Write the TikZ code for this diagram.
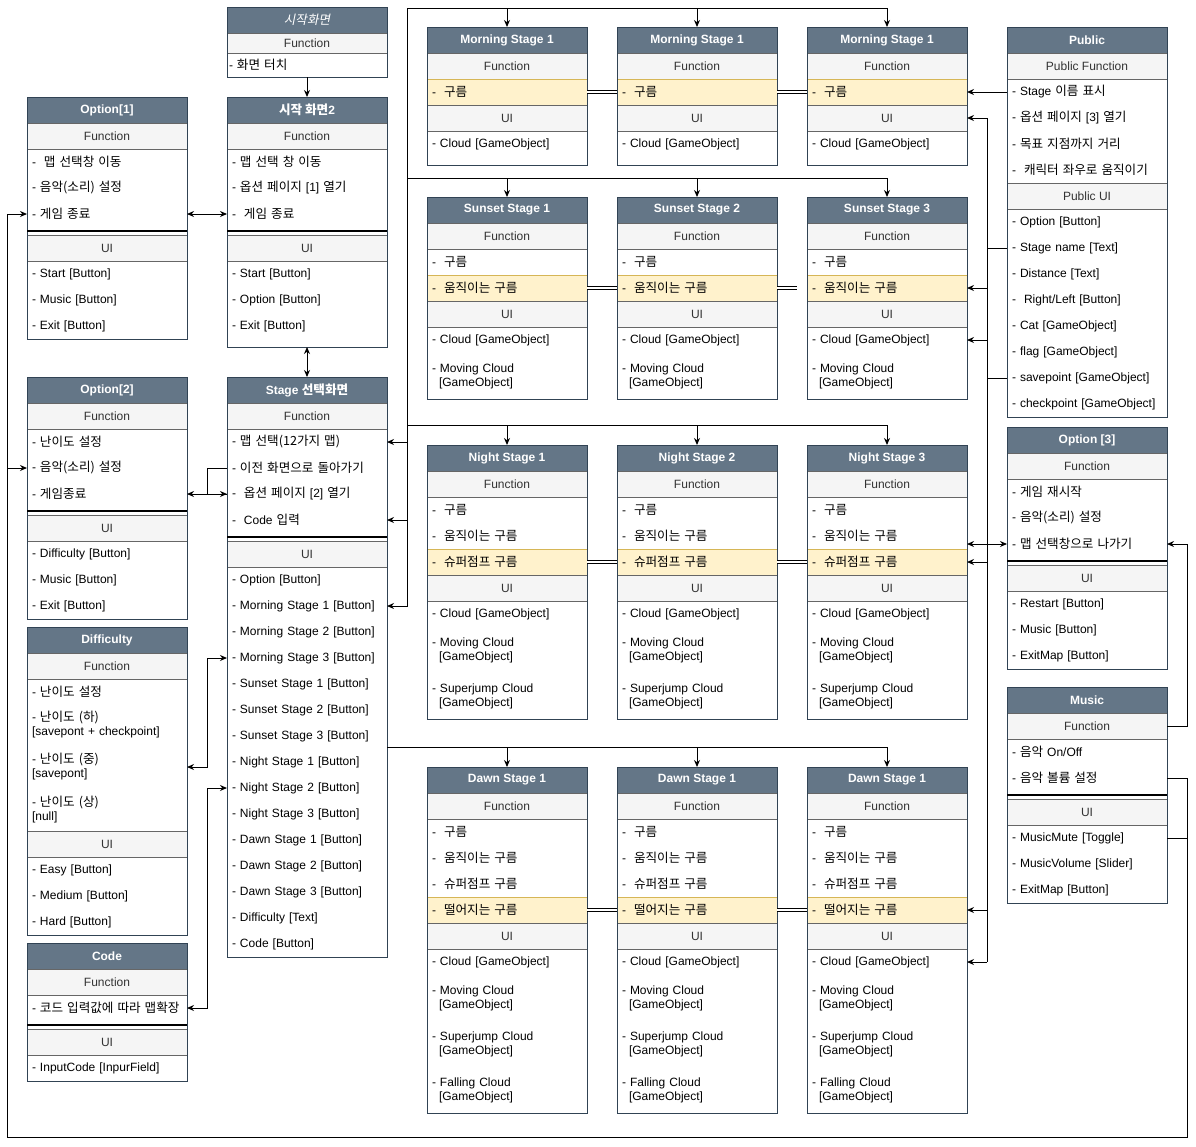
\documentclass[tikz,border=0pt]{standalone}
\usepackage{fontspec}
\setmainfont{Liberation Sans}
\newfontfamily\krfont{Noto Sans CJK KR}[Scale=1.05, AutoFakeSlant=0.2]
\newcommand{\kor}[1]{{\krfont #1}}
\usetikzlibrary{positioning, arrows.meta}
\definecolor{hdfill}{HTML}{647687}
\definecolor{hdline}{HTML}{314354}
\definecolor{partfill}{HTML}{F5F5F5}
\definecolor{partline}{HTML}{666666}
\definecolor{parttext}{HTML}{333333}
\definecolor{hotfill}{HTML}{FFF2CC}
\definecolor{hotline}{HTML}{D6B656}
\tikzstyle{boxtitle} = [rectangle, minimum width=160pt, minimum height=26pt, inner sep=0pt, outer sep=0pt, draw=hdline, fill=hdfill, text=white, font=\fontsize{12}{14}\selectfont\bfseries, anchor=north west]
\tikzstyle{boxpart} = [rectangle, minimum width=160pt, minimum height=26pt, inner sep=0pt, outer sep=0pt, draw=partline, fill=partfill, text=parttext]
\tikzstyle{boxrow} = [rectangle, minimum width=160pt, minimum height=26pt, inner sep=0pt, outer sep=0pt, inner xsep=5pt, text width=150pt, align=left]
\tikzstyle{boxhot} = [boxrow, draw=hotline, fill=hotfill]
\tikzstyle{boxtall} = [boxrow, minimum height=46pt]
\tikzstyle{boxgap} = [rectangle, minimum width=160pt, minimum height=8pt, inner sep=0pt, outer sep=0pt]
\tikzstyle{boxpad} = [boxgap]
\tikzstyle{boxframe} = [draw=hdline]
\tikzstyle{gapline} = [line width=1.5pt]
\tikzstyle{arrow} = [->,>={Stealth[length=7pt, width=6pt]}]
\tikzstyle{both} = [<->,>={Stealth[length=7pt, width=6pt]}]
\tikzstyle{dlink} = [double, double distance=2pt]

\begin{document}
\begin{tikzpicture}[x=1pt, y=-1pt, line width=1pt, every node/.style={font=\fontsize{12}{14}\selectfont}]
	\fill[white] (0,0) rectangle (1196,1146);

	% start screens
	\node (st) [boxtitle, font=\fontsize{12}{14}\selectfont\itshape] at (227,7) {\kor{시작화면}};
	\node (stf) [boxpart, minimum height=20pt, below=0pt of st] {Function};
	\node (sta) [boxrow, minimum height=24pt, inner xsep=2pt, text width=156pt, below=0pt of stf] {- \kor{화면 터치}};

	\node (s2) [boxtitle] at (227,97) {\kor{시작 화면}2};
	\node (s2f) [boxpart, below=0pt of s2] {Function};
	\node (s2a) [boxrow, below=0pt of s2f] {- \kor{맵 선택 창 이동}};
	\node (s2b) [boxrow, below=0pt of s2a] {- \kor{옵션 페이지} [1] \kor{열기}};
	\node (s2c) [boxrow, below=0pt of s2b] {-\ \ \kor{게임 종료}};
	\node (s2s) [boxgap, below=0pt of s2c] {};
	\node (s2u) [boxpart, below=0pt of s2s] {UI};
	\node (s2d) [boxrow, below=0pt of s2u] {- Start [Button]};
	\node (s2e) [boxrow, below=0pt of s2d] {- Option [Button]};
	\node (s2g) [boxrow, below=0pt of s2e] {- Exit [Button]};
	\node (s2p) [boxpad, below=0pt of s2g] {};

	% options
	\node (o1) [boxtitle] at (27,97) {Option[1]};
	\node (o1f) [boxpart, below=0pt of o1] {Function};
	\node (o1a) [boxrow, below=0pt of o1f] {-\ \ \kor{맵 선택창 이동}};
	\node (o1b) [boxrow, below=0pt of o1a] {- \kor{음악(소리) 설정}};
	\node (o1c) [boxrow, below=0pt of o1b] {- \kor{게임 종료}};
	\node (o1s) [boxgap, below=0pt of o1c] {};
	\node (o1u) [boxpart, below=0pt of o1s] {UI};
	\node (o1d) [boxrow, below=0pt of o1u] {- Start [Button]};
	\node (o1e) [boxrow, below=0pt of o1d] {- Music [Button]};
	\node (o1g) [boxrow, below=0pt of o1e] {- Exit [Button]};

	\node (o2) [boxtitle] at (27,377) {Option[2]};
	\node (o2f) [boxpart, below=0pt of o2] {Function};
	\node (o2a) [boxrow, below=0pt of o2f] {- \kor{난이도 설정}};
	\node (o2b) [boxrow, below=0pt of o2a] {- \kor{음악(소리) 설정}};
	\node (o2c) [boxrow, below=0pt of o2b] {- \kor{게임종료}};
	\node (o2s) [boxgap, below=0pt of o2c] {};
	\node (o2u) [boxpart, below=0pt of o2s] {UI};
	\node (o2d) [boxrow, below=0pt of o2u] {- Difficulty [Button]};
	\node (o2e) [boxrow, below=0pt of o2d] {- Music [Button]};
	\node (o2g) [boxrow, below=0pt of o2e] {- Exit [Button]};

	\node (df) [boxtitle] at (27,627) {Difficulty};
	\node (dff) [boxpart, below=0pt of df] {Function};
	\node (dfa) [boxrow, below=0pt of dff] {- \kor{난이도 설정}};
	\node (dfb) [boxrow, minimum height=40pt, below=0pt of dfa] {- \kor{난이도 (하)}\\{}[savepont + checkpoint]};
	\node (dfc) [boxrow, minimum height=44pt, below=0pt of dfb] {- \kor{난이도 (중)}\\{}[savepont]};
	\node (dfd) [boxrow, minimum height=42pt, below=0pt of dfc] {- \kor{난이도 (상)}\\{}[null]};
	\node (dfu) [boxpart, below=0pt of dfd] {UI};
	\node (dfe) [boxrow, below=0pt of dfu] {- Easy [Button]};
	\node (dfg) [boxrow, below=0pt of dfe] {- Medium [Button]};
	\node (dfh) [boxrow, below=0pt of dfg] {- Hard [Button]};

	\node (cd) [boxtitle] at (27,943) {Code};
	\node (cdf) [boxpart, below=0pt of cd] {Function};
	\node (cda) [boxrow, below=0pt of cdf] {\mbox{- \kor{코드 입력값에 따라 맵확장}}};
	\node (cds) [boxgap, below=0pt of cda] {};
	\node (cdu) [boxpart, below=0pt of cds] {UI};
	\node (cdb) [boxrow, below=0pt of cdu] {- InputCode [InpurField]};

	% stage select
	\node (ss) [boxtitle] at (227,377) {Stage \kor{선택화면}};
	\node (ssf) [boxpart, below=0pt of ss] {Function};
	\node (ssa) [boxrow, below=0pt of ssf] {- \kor{맵 선택(12가지 맵)}};
	\node (ssb) [boxrow, below=0pt of ssa] {- \kor{이전 화면으로 돌아가기}};
	\node (ssc) [boxrow, below=0pt of ssb] {-\ \ \kor{옵션 페이지} [2] \kor{열기}};
	\node (ssd) [boxrow, below=0pt of ssc] {-\ \ Code \kor{입력}};
	\node (sss) [boxgap, below=0pt of ssd] {};
	\node (ssu) [boxpart, below=0pt of sss] {UI};
	\node (ss1) [boxrow, below=0pt of ssu] {- Option [Button]};
	\node (ss2) [boxrow, below=0pt of ss1] {- Morning Stage 1 [Button]};
	\node (ss3) [boxrow, below=0pt of ss2] {- Morning Stage 2 [Button]};
	\node (ss4) [boxrow, below=0pt of ss3] {- Morning Stage 3 [Button]};
	\node (ss5) [boxrow, below=0pt of ss4] {- Sunset Stage 1 [Button]};
	\node (ss6) [boxrow, below=0pt of ss5] {- Sunset Stage 2 [Button]};
	\node (ss7) [boxrow, below=0pt of ss6] {- Sunset Stage 3 [Button]};
	\node (ss8) [boxrow, below=0pt of ss7] {- Night Stage 1 [Button]};
	\node (ss9) [boxrow, below=0pt of ss8] {- Night Stage 2 [Button]};
	\node (ss10) [boxrow, below=0pt of ss9] {- Night Stage 3 [Button]};
	\node (ss11) [boxrow, below=0pt of ss10] {- Dawn Stage 1 [Button]};
	\node (ss12) [boxrow, below=0pt of ss11] {- Dawn Stage 2 [Button]};
	\node (ss13) [boxrow, below=0pt of ss12] {- Dawn Stage 3 [Button]};
	\node (ss14) [boxrow, below=0pt of ss13] {- Difficulty [Text]};
	\node (ss15) [boxrow, below=0pt of ss14] {- Code [Button]};

	% public, option 3, music
	\node (pb) [boxtitle] at (1007,27) {Public};
	\node (pbf) [boxpart, below=0pt of pb] {Public Function};
	\node (pba) [boxrow, below=0pt of pbf] {- Stage \kor{이름 표시}};
	\node (pbb) [boxrow, below=0pt of pba] {- \kor{옵션 페이지} [3] \kor{열기}};
	\node (pbc) [boxrow, below=0pt of pbb] {- \kor{목표 지점까지 거리}};
	\node (pbd) [boxrow, below=0pt of pbc] {\mbox{-\ \ \kor{캐릭터 좌우로 움직이기}}};
	\node (pbu) [boxpart, below=0pt of pbd] {Public UI};
	\node (pb1) [boxrow, below=0pt of pbu] {- Option [Button]};
	\node (pb2) [boxrow, below=0pt of pb1] {- Stage name [Text]};
	\node (pb3) [boxrow, below=0pt of pb2] {- Distance [Text]};
	\node (pb4) [boxrow, below=0pt of pb3] {-\ \ Right/Left [Button]};
	\node (pb5) [boxrow, below=0pt of pb4] {- Cat [GameObject]};
	\node (pb6) [boxrow, below=0pt of pb5] {- flag [GameObject]};
	\node (pb7) [boxrow, below=0pt of pb6] {- savepoint [GameObject]};
	\node (pb8) [boxrow, below=0pt of pb7] {- checkpoint [GameObject]};

	\node (o3) [boxtitle] at (1007,427) {Option [3]};
	\node (o3f) [boxpart, below=0pt of o3] {Function};
	\node (o3a) [boxrow, below=0pt of o3f] {- \kor{게임 재시작}};
	\node (o3b) [boxrow, below=0pt of o3a] {- \kor{음악(소리) 설정}};
	\node (o3c) [boxrow, below=0pt of o3b] {- \kor{맵 선택창으로 나가기}};
	\node (o3s) [boxgap, below=0pt of o3c] {};
	\node (o3u) [boxpart, below=0pt of o3s] {UI};
	\node (o3d) [boxrow, below=0pt of o3u] {- Restart [Button]};
	\node (o3e) [boxrow, below=0pt of o3d] {- Music [Button]};
	\node (o3g) [boxrow, below=0pt of o3e] {- ExitMap [Button]};

	\node (mu) [boxtitle] at (1007,687) {Music};
	\node (muf) [boxpart, below=0pt of mu] {Function};
	\node (mua) [boxrow, below=0pt of muf] {- \kor{음악} On/Off};
	\node (mub) [boxrow, below=0pt of mua] {- \kor{음악 볼륨 설정}};
	\node (mus) [boxgap, below=0pt of mub] {};
	\node (muu) [boxpart, below=0pt of mus] {UI};
	\node (mu1) [boxrow, below=0pt of muu] {- MusicMute [Toggle]};
	\node (mu2) [boxrow, below=0pt of mu1] {- MusicVolume [Slider]};
	\node (mu3) [boxrow, below=0pt of mu2] {- ExitMap [Button]};

	% stages, one column each
	\foreach \i/\x/\sn in {1/427/1, 2/617/2, 3/807/3} {
		\node (mo\i) [boxtitle] at (\x,27) {Morning Stage 1};
		\node (mo\i f) [boxpart, below=0pt of mo\i] {Function};
		\node (mo\i a) [boxhot, below=0pt of mo\i f] {-\ \ \kor{구름}};
		\node (mo\i u) [boxpart, below=0pt of mo\i a] {UI};
		\node (mo\i b) [boxrow, below=0pt of mo\i u] {- Cloud [GameObject]};
		\node (mo\i p) [boxpad, below=0pt of mo\i b] {};
		\draw[boxframe] (mo\i.north west) rectangle (mo\i p.south east);

		\node (su\i) [boxtitle] at (\x,197) {Sunset Stage \sn};
		\node (su\i f) [boxpart, below=0pt of su\i] {Function};
		\node (su\i a) [boxrow, below=0pt of su\i f] {-\ \ \kor{구름}};
		\node (su\i b) [boxhot, below=0pt of su\i a] {-\ \ \kor{움직이는 구름}};
		\node (su\i u) [boxpart, below=0pt of su\i b] {UI};
		\node (su\i c) [boxrow, below=0pt of su\i u] {- Cloud [GameObject]};
		\node (su\i d) [boxtall, below=0pt of su\i c] {- Moving Cloud\\\hspace*{7pt}[GameObject]};
		\draw[boxframe] (su\i.north west) rectangle (su\i d.south east);

		\node (ni\i) [boxtitle] at (\x,445) {Night Stage \sn};
		\node (ni\i f) [boxpart, below=0pt of ni\i] {Function};
		\node (ni\i a) [boxrow, below=0pt of ni\i f] {-\ \ \kor{구름}};
		\node (ni\i b) [boxrow, below=0pt of ni\i a] {-\ \ \kor{움직이는 구름}};
		\node (ni\i c) [boxhot, below=0pt of ni\i b] {-\ \ \kor{슈퍼점프 구름}};
		\node (ni\i u) [boxpart, below=0pt of ni\i c] {UI};
		\node (ni\i d) [boxrow, below=0pt of ni\i u] {- Cloud [GameObject]};
		\node (ni\i e) [boxtall, below=0pt of ni\i d] {- Moving Cloud\\\hspace*{7pt}[GameObject]};
		\node (ni\i g) [boxtall, below=0pt of ni\i e] {- Superjump Cloud\\\hspace*{7pt}[GameObject]};
		\draw[boxframe] (ni\i.north west) rectangle (ni\i g.south east);

		\node (da\i) [boxtitle] at (\x,767) {Dawn Stage 1};
		\node (da\i f) [boxpart, below=0pt of da\i] {Function};
		\node (da\i a) [boxrow, below=0pt of da\i f] {-\ \ \kor{구름}};
		\node (da\i b) [boxrow, below=0pt of da\i a] {-\ \ \kor{움직이는 구름}};
		\node (da\i c) [boxrow, below=0pt of da\i b] {-\ \ \kor{슈퍼점프 구름}};
		\node (da\i d) [boxhot, below=0pt of da\i c] {-\ \ \kor{떨어지는 구름}};
		\node (da\i u) [boxpart, below=0pt of da\i d] {UI};
		\node (da\i e) [boxrow, below=0pt of da\i u] {- Cloud [GameObject]};
		\node (da\i g) [boxtall, below=0pt of da\i e] {- Moving Cloud\\\hspace*{7pt}[GameObject]};
		\node (da\i h) [boxtall, below=0pt of da\i g] {- Superjump Cloud\\\hspace*{7pt}[GameObject]};
		\node (da\i k) [boxtall, below=0pt of da\i h] {- Falling Cloud\\\hspace*{7pt}[GameObject]};
		\draw[boxframe] (da\i.north west) rectangle (da\i k.south east);
	}

	% frames and separators
	\foreach \a/\b in {st/sta, s2/s2p, o1/o1g, o2/o2g, df/dfh, cd/cdb, ss/ss15, pb/pb8, o3/o3g, mu/mu3}
		\draw[boxframe] (\a.north west) rectangle (\b.south east);
	\foreach \g in {s2s, o1s, o2s, cds, sss, o3s, mus}
		\draw[gapline] (\g.west) -- (\g.east);

	% start and options
	\draw [arrow] (sta.south) -- (s2.north);
	\draw [both] (o1c.east) -- (s2c.west);
	\draw [both] (s2p.south) -- (ss.north);
	\draw [both] (o2c.east) -- (ssc.west);
	\draw (ssb.west) -- ++(-20,0) |- (ssc.west);
	\draw [both] (ss4.west) -- ++(-20,0) |- (dfc.east);
	\draw [both] (ss9.west) -- ++(-20,0) |- (cda.east);

	% stage buses
	\coordinate (busa) at (407,8);
	\coordinate (busb) at (407,178);
	\coordinate (busc) at (407,425);
	\coordinate (busd) at (387,747);
	\foreach \i in {1,2,3} {
		\draw [arrow] (busa) -| (mo\i.north);
		\draw [arrow] (busb) -| (su\i.north);
		\draw [arrow] (busc) -| (ni\i.north);
		\draw [arrow] (busd) -| (da\i.north);
	}
	\draw [arrow] (busa) |- (ssa.east);
	\draw [arrow] (busa) |- (ssd.east);
	\draw [arrow] (busa) |- (ss2.east);

	% clouds linked across a row
	\draw [dlink] (mo1a.east) -- (mo2a.west);
	\draw [dlink] (mo2a.east) -- (mo3a.west);
	\draw [dlink] (su1b.east) -- (su2b.west);
	\draw [dlink] (su2b.east) -- ++(20,0);
	\draw [dlink] (ni1c.east) -- (ni2c.west);
	\draw [dlink] (ni2c.east) -- (ni3c.west);
	\draw [dlink] (da1d.east) -- (da2d.west);
	\draw [dlink] (da2d.east) -- (da3d.west);

	% public
	\coordinate (pbus) at (987,118);
	\draw [arrow] (pba.west) -- (mo3a.east);
	\draw (pbus) -- (pbus |- da3e.east);
	\draw (pb2.west) -- (pb2.west -| pbus);
	\draw [thick] (pb7.west) -- (pb7.west -| pbus);
	\draw [arrow] (pbus) -- (mo3u.east);
	\draw [arrow] (pbus |- su3b.east) -- (su3b.east);
	\draw [arrow] (pbus |- su3c.east) -- (su3c.east);
	\draw [arrow] (pbus |- ni3c.east) -- (ni3c.east);
	\draw [arrow] (pbus |- da3d.east) -- (da3d.east);
	\draw [arrow] (pbus |- da3e.east) -- (da3e.east);
	\draw [both] (o3c.west -| ni3c.east) -- (o3c.west);

	% music
	\coordinate (loopr) at (1187,1137);
	\coordinate (loopl) at (7,1137);
	\draw [arrow] (muf.east) -- ++(20,0) |- (o3c.east);
	\draw [arrow] (mub.east) -| (loopr) -- (loopl) |- (o1c.west);
	\draw (mu1.east) -- (mu1.east -| loopr);
	\draw [arrow] (loopl) |- (o2b.west);
\end{tikzpicture}
\end{document}
